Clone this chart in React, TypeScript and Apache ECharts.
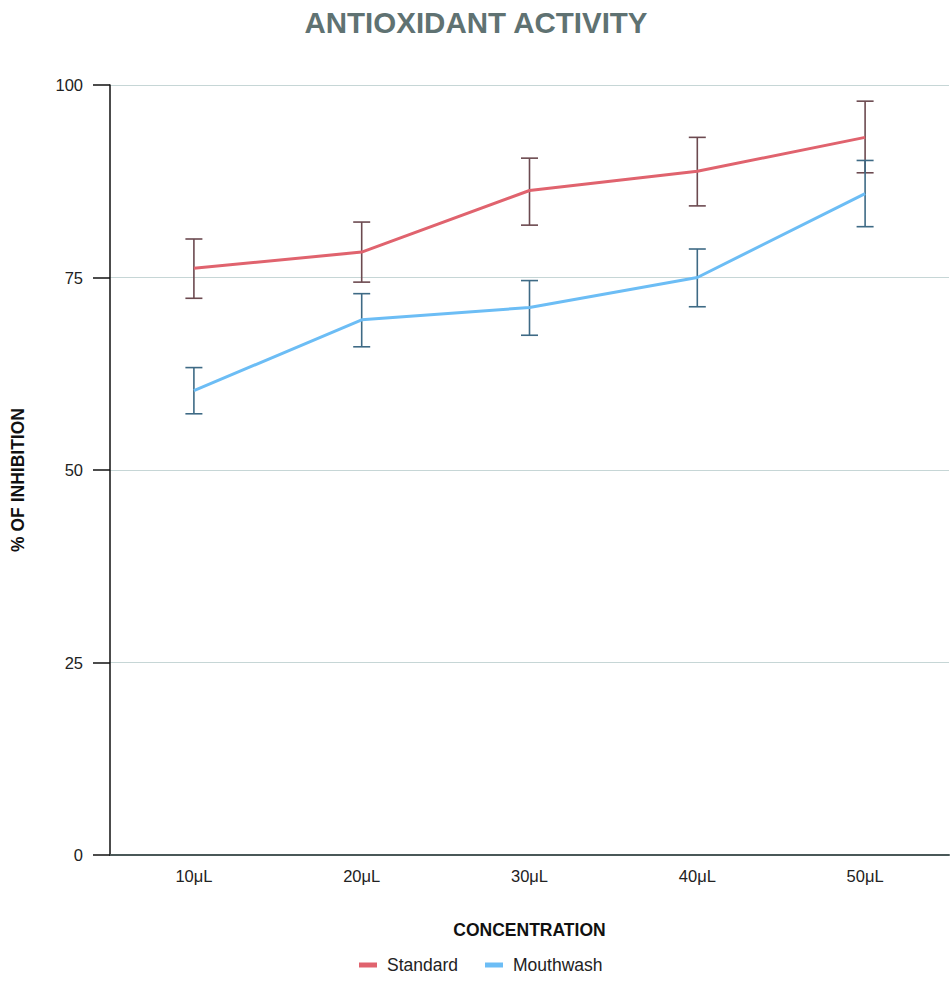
import React, { useEffect, useRef } from "react";
import * as echarts from "echarts";

const categories = ["10μL", "20μL", "30μL", "40μL", "50μL"];
const standardMean = [76.2, 78.3, 86.3, 88.8, 93.2];
const standardLow = [72.3, 74.4, 81.8, 84.3, 88.6];
const standardHigh = [80.0, 82.2, 90.5, 93.2, 97.9];
const mouthwashMean = [60.3, 69.5, 71.1, 75.0, 85.9];
const mouthwashLow = [57.3, 66.0, 67.5, 71.2, 81.6];
const mouthwashHigh = [63.3, 72.9, 74.6, 78.7, 90.2];
const yTicks = [0, 25, 50, 75, 100];

const FONT = "Liberation Sans, Arial, sans-serif";

function errorSeries(name: string, low: number[], high: number[], color: string) {
  return {
    type: "custom",
    name: name + " error",
    z: 3,
    data: categories.map((_, i) => [i, low[i], high[i]]),
    encode: { x: 0, y: [1, 2] },
    renderItem: (params: any, api: any) => {
      const x = api.value(0);
      const lo = api.coord([x, api.value(1)]);
      const hi = api.coord([x, api.value(2)]);
      const hw = 8.5;
      const style = { stroke: color, lineWidth: 1.6, fill: "none" };
      return {
        type: "group",
        children: [
          { type: "line", shape: { x1: lo[0], y1: lo[1], x2: hi[0], y2: hi[1] }, style },
          { type: "line", shape: { x1: lo[0] - hw, y1: lo[1], x2: lo[0] + hw, y2: lo[1] }, style },
          { type: "line", shape: { x1: hi[0] - hw, y1: hi[1], x2: hi[0] + hw, y2: hi[1] }, style },
        ],
      };
    },
  };
}

export default function App() {
  const ref = useRef<HTMLDivElement>(null);
  useEffect(() => {
    if (!ref.current) return;
    const chart = echarts.init(ref.current, undefined, { renderer: "svg" });
    chart.setOption({
      animation: false,
      textStyle: { fontFamily: FONT },
      title: {
        text: "ANTIOXIDANT ACTIVITY",
        left: "center",
        top: 2,
        textStyle: { fontSize: 29.5, fontWeight: "bold", color: "#5f7272", fontFamily: FONT },
      },
      legend: {
        bottom: 11,
        left: 354,
        itemWidth: 18,
        itemHeight: 5,
        itemGap: 27,
        icon: "rect",
        data: ["Standard", "Mouthwash"],
        textStyle: { fontSize: 17.5, color: "#222", fontFamily: FONT, padding: [0, 0, 0, 5] },
      },
      grid: { left: 110, right: 3, top: 85, bottom: 135, containLabel: false },
      xAxis: {
        type: "category",
        data: categories,
        boundaryGap: true,
        name: "CONCENTRATION",
        nameLocation: "middle",
        nameGap: 66,
        nameTextStyle: { fontSize: 17.5, fontWeight: "bold", color: "#111" },
        axisLine: { show: true, lineStyle: { color: "#4a5858", width: 2 } },
        axisTick: { show: false },
        axisLabel: { fontSize: 16.5, color: "#222", margin: 12 },
        splitLine: { show: false },
      },
      yAxis: {
        type: "value",
        min: 0,
        max: 100,
        interval: 25,
        axisLine: { show: true, lineStyle: { color: "#111", width: 1.5 } },
        axisTick: { show: true, length: 17, lineStyle: { color: "#111", width: 1.5 } },
        axisLabel: { fontSize: 16.5, color: "#222", margin: 27, formatter: (v: number) => (yTicks.includes(v) ? String(v) : "") },
        splitLine: { show: true, lineStyle: { color: "#c6d6d6", width: 1 } },
      },
      graphic: [
        {
          type: "text",
          x: 18,
          y: 480,
          rotation: Math.PI / 2,
          style: {
            text: "% OF INHIBITION",
            fontSize: 17.5,
            fontWeight: "bold",
            fill: "#111",
            align: "center",
            verticalAlign: "middle",
            fontFamily: FONT,
          },
        },
      ],
      series: [
        {
          name: "Standard",
          type: "line",
          data: standardMean,
          symbol: "none",
          z: 4,
          itemStyle: { color: "#e0636e" },
          lineStyle: { color: "#e0636e", width: 3 },
        },
        {
          name: "Mouthwash",
          type: "line",
          data: mouthwashMean,
          symbol: "none",
          z: 4,
          itemStyle: { color: "#6cbdf5" },
          lineStyle: { color: "#6cbdf5", width: 3 },
        },
        errorSeries("Standard", standardLow, standardHigh, "#6c4a50"),
        errorSeries("Mouthwash", mouthwashLow, mouthwashHigh, "#3e6a85"),
      ],
    });
    return () => chart.dispose();
  }, []);
  return <div ref={ref} style={{ width: 952, height: 990, position: "absolute", left: 0, top: 0 }} />;
}
